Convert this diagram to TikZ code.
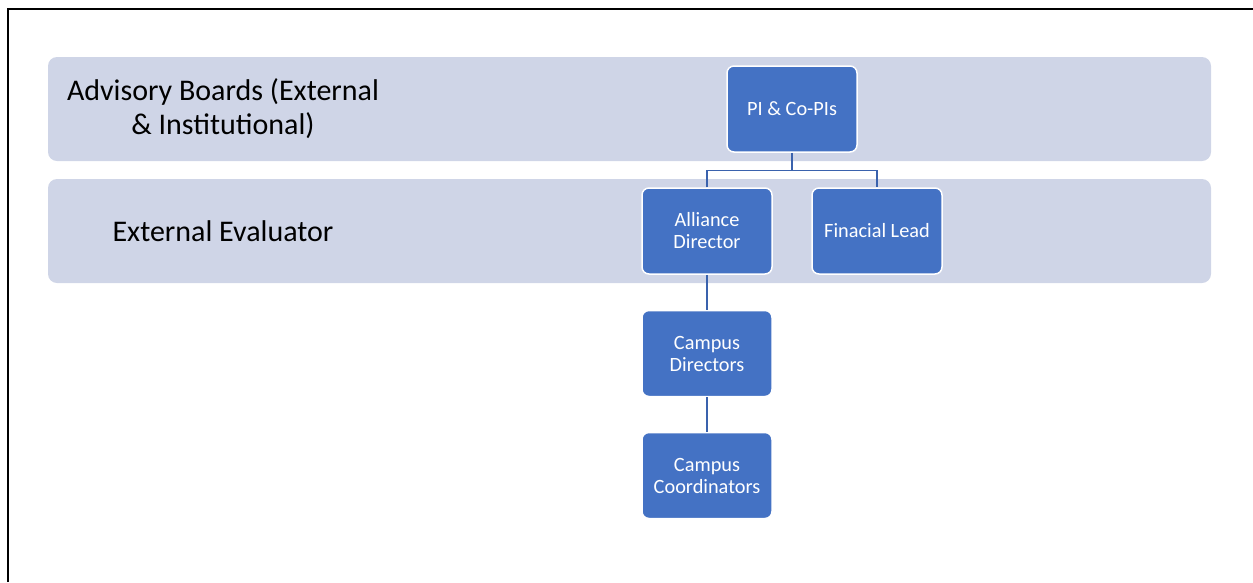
\documentclass[tikz,border=0pt]{standalone}
\usepackage{fontspec}
\setmainfont{Carlito}
\definecolor{bandc}{HTML}{CFD5E7}
\definecolor{boxc}{HTML}{4472C4}
\definecolor{linec}{HTML}{3A62AD}
\begin{document}
\begin{tikzpicture}[x=1pt,y=-1pt,
  band/.style={fill=bandc,draw=none,rounded corners=9pt},
  bandtext/.style={font=\fontsize{30}{34}\selectfont,text=black,align=center,inner sep=0pt},
  orgbox/.style={fill=boxc,draw=white,line width=1.5pt,rounded corners=7pt,minimum width=130pt,minimum height=86pt,align=center,text=white,font=\fontsize{20.3}{22}\selectfont,inner sep=2pt},
  conn/.style={draw=linec,line width=1.5pt}]
\useasboundingbox (0,0) rectangle (1253,582);
% frame
\draw[line width=2pt,black] (8,582) -- (8,9) -- (1253,9);
% bands
\path[band] (48,57) rectangle (1211,161);
\path[band] (48,179) rectangle (1211,283);
\node[bandtext] (adv) at (223,109) {Advisory Boards (External\\ \& Institutional)};
\node[bandtext] (ext) at (223,231) {External Evaluator};
% boxes
\node[orgbox] (pi) at (792,109) {PI \& Co-PIs};
\node[orgbox] (ad) at (707,231) {Alliance\\Director};
\node[orgbox] (fl) at (877,231) {Finacial Lead};
\node[orgbox] (cd) at (707,353.5) {Campus\\Directors};
\node[orgbox] (cc) at (707,475.5) {Campus\\Coordinators};
% connectors
\coordinate (j) at (792,170.5);
\draw[conn] (pi.south) -- (j);
\draw[conn] (ad.north) |- (j) -| (fl.north);
\draw[conn] (ad.south) -- (cd.north);
\draw[conn] (cd.south) -- (cc.north);
\end{tikzpicture}
\end{document}
